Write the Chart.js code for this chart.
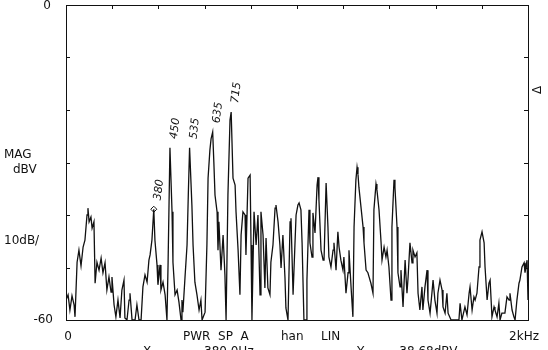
<!DOCTYPE html>
<html>
<head>
<meta charset="utf-8">
<script src="https://cdn.jsdelivr.net/npm/chart.js@4/dist/chart.umd.min.js"></script>
<style>
  html, body { margin: 0; padding: 0; background: #fff; }
  #wrap { width: 548px; height: 350px; }
</style>
</head>
<body>
<div id="wrap"><canvas id="spectrum" width="548" height="350"></canvas></div>
<script>
// spectrum trace (Hz, dBV)
const freqHz = [
  0, 9, 17, 26, 35, 39, 48, 56, 65, 74, 82, 91, 95, 100, 108, 113, 121, 126, 134, 143,
  152, 160, 169, 177, 186, 195, 199, 208, 216, 225, 234, 242, 251, 255, 264, 273, 277, 286, 299, 307,
  316, 325, 333, 342, 351, 359, 364, 372, 380, 385, 394, 398, 407, 411, 420, 429, 437, 442, 450, 459,
  463, 472, 481, 489, 498, 502, 506, 515, 524, 530, 535, 545, 550, 558, 567, 576, 584, 589, 602, 610,
  615, 623, 628, 635, 640, 645, 654, 658, 662, 671, 680, 688, 693, 701, 710, 715, 723, 732, 736, 745,
  753, 758, 766, 775, 779, 788, 797, 801, 805, 814, 823, 831, 840, 844, 853, 861, 866, 874, 883, 887,
  896, 905, 909, 918, 926, 931, 939, 948, 952, 961, 970, 974, 983, 991, 996, 1004, 1009, 1017, 1022, 1030,
  1039, 1043, 1052, 1056, 1065, 1069, 1078, 1087, 1091, 1095, 1104, 1113, 1117, 1126, 1134, 1138, 1147, 1156, 1160, 1169,
  1177, 1182, 1190, 1199, 1203, 1212, 1221, 1225, 1234, 1242, 1247, 1255, 1260, 1264, 1268, 1277, 1286, 1290, 1299, 1307,
  1312, 1320, 1329, 1333, 1342, 1346, 1355, 1364, 1368, 1377, 1385, 1390, 1398, 1407, 1411, 1420, 1424, 1433, 1437, 1446,
  1450, 1459, 1468, 1476, 1481, 1489, 1498, 1502, 1511, 1519, 1524, 1532, 1541, 1545, 1554, 1563, 1567, 1576, 1584, 1589,
  1597, 1606, 1610, 1619, 1628, 1632, 1641, 1649, 1654, 1667, 1684, 1701, 1706, 1714, 1727, 1736, 1745, 1749, 1758, 1766,
  1771, 1779, 1788, 1792, 1801, 1810, 1814, 1823, 1831, 1836, 1844, 1853, 1857, 1866, 1874, 1879, 1887, 1900, 1909, 1918,
  1922, 1931, 1939, 1944, 1952, 1961, 1965, 1974, 1983, 1987, 1996, 2000
];
const magDbv = [
  -56.2, -55.2, -58.1, -55.4, -57.1, -59.4, -49.0, -46.7, -49.7, -46.1, -44.8, -40.0, -38.7, -41.3, -40.4, -42.5, -41.3, -53.0, -49.0, -50.5,
  -48.2, -51.0, -49.1, -54.3, -51.8, -54.7, -51.8, -57.1, -59.4, -56.2, -59.6, -54.3, -52.4, -59.6, -60.0, -56.2, -54.9, -60.0, -60.0, -57.1,
  -60.0, -60.0, -53.7, -51.4, -52.8, -48.6, -47.6, -44.8, -38.9, -44.8, -49.5, -53.3, -49.5, -54.3, -52.8, -55.2, -60.0, -49.0, -27.2, -39.4,
  -49.0, -55.2, -54.3, -56.6, -60.0, -56.2, -58.5, -52.0, -45.7, -35.2, -27.2, -38.1, -45.7, -52.8, -55.2, -58.1, -56.2, -60.0, -58.5, -45.7,
  -33.0, -27.6, -25.5, -24.2, -29.9, -36.2, -39.4, -46.7, -41.3, -50.5, -43.8, -51.4, -60.0, -36.2, -21.9, -20.4, -33.0, -34.3, -39.4, -46.7,
  -55.2, -43.8, -39.4, -40.0, -47.6, -33.0, -32.4, -45.7, -60.0, -39.4, -45.7, -40.0, -55.2, -39.4, -43.8, -53.9, -44.4, -53.9, -55.2, -49.0,
  -45.7, -38.7, -38.1, -41.3, -45.7, -50.1, -43.8, -52.0, -57.7, -60.0, -41.3, -40.6, -55.2, -45.7, -40.0, -38.1, -37.7, -39.0, -45.3, -60.0,
  -60.0, -52.4, -39.0, -45.3, -48.0, -39.6, -43.4, -34.3, -32.8, -37.1, -46.7, -48.6, -48.6, -33.9, -42.3, -48.0, -49.9, -46.7, -45.3, -50.5,
  -43.2, -46.1, -48.6, -50.5, -48.0, -54.9, -51.0, -46.7, -53.7, -59.4, -42.3, -33.3, -30.9, -32.2, -34.7, -38.5, -42.3, -45.3, -50.5, -51.0,
  -51.8, -53.0, -54.9, -39.0, -34.1, -35.2, -39.0, -45.3, -48.6, -46.1, -48.0, -46.7, -49.9, -56.2, -42.3, -33.3, -34.7, -42.3, -51.0, -53.7,
  -50.5, -57.5, -48.6, -54.9, -51.8, -45.3, -49.1, -46.7, -48.0, -47.2, -54.9, -58.1, -53.7, -58.1, -53.7, -50.5, -56.2, -58.7, -54.9, -52.4,
  -56.2, -58.7, -54.9, -52.4, -54.3, -57.5, -58.7, -54.9, -58.7, -60.0, -60.0, -60.0, -56.8, -60.0, -57.5, -59.0, -54.9, -53.7, -58.1, -55.6,
  -56.2, -54.9, -49.9, -44.8, -43.2, -45.3, -49.9, -56.2, -53.0, -52.4, -59.4, -57.5, -58.1, -59.4, -56.8, -60.0, -58.7, -58.7, -55.6, -56.2,
  -54.9, -58.1, -59.4, -60.0, -56.2, -53.0, -52.4, -49.9, -49.1, -51.0, -48.6, -56.2
];

// marker and hand-written peak notes
const markerHz = [380];
const markerDbv = [-38.9];
const peakNotes = ['380', '450', '535', '635', '715'];
const peakHz = [380, 450, 535, 635, 715];
const peakDbv = [-38.9, -27.2, -27.2, -24.2, -20.4];

// axis ticks
const xMin = 0, xMax = 2000, xStep = 200;
const yMin = -60, yMax = 0, yStep = 10;

const traceData = freqHz.map((f, i) => ({ x: f, y: magDbv[i] }));
const markerData = markerHz.map((f, i) => ({ x: f, y: markerDbv[i] }));

const font = '"DejaVu Sans", sans-serif';

// frame, inward ticks and all the plotter text
const plotterDecor = {
  id: 'plotterDecor',
  afterDraw(chart) {
    const ctx = chart.ctx;
    const a = chart.chartArea;
    const xs = chart.scales.x;
    const ys = chart.scales.y;
    ctx.save();
    ctx.strokeStyle = '#111';
    ctx.lineWidth = 1;
    ctx.strokeRect(a.left + 0.5, a.top + 0.5, a.right - a.left, a.bottom - a.top);

    // inward ticks
    ctx.beginPath();
    for (let v = xMin; v <= xMax; v += xStep) {
      const px = Math.round(xs.getPixelForValue(v)) + 0.5;
      ctx.moveTo(px, a.top);
      ctx.lineTo(px, a.top + 4);
    }
    for (let v = yMin; v <= yMax; v += yStep) {
      const py = Math.round(ys.getPixelForValue(v)) + 0.5;
      ctx.moveTo(a.left, py);
      ctx.lineTo(a.left + 4, py);
      ctx.moveTo(a.right, py);
      ctx.lineTo(a.right - 4, py);
    }
    ctx.stroke();

    // left side labels
    ctx.fillStyle = '#111';
    ctx.font = '12px ' + font;
    ctx.textBaseline = 'middle';
    ctx.textAlign = 'right';
    ctx.fillText(String(yMax), 51, ys.getPixelForValue(yMax) + 1);
    ctx.fillText(String(yMin), 53, ys.getPixelForValue(yMin));
    ctx.textAlign = 'left';
    ctx.fillText('MAG', 4, 155);
    ctx.fillText('dBV', 13, 170);
    ctx.fillText('10dB/', 4, 241);

    // bottom labels
    ctx.textAlign = 'center';
    ctx.fillText('0', xs.getPixelForValue(xMin) + 2, 337);
    ctx.textAlign = 'left';
    ctx.fillText('PWR  SP  A', 183, 337);
    ctx.fillText('han', 281, 337);
    ctx.fillText('LIN', 321, 337);
    ctx.textAlign = 'right';
    ctx.fillText('2kHz', 539, 337);
    ctx.textAlign = 'left';
    ctx.fillText('X', 143, 352);
    ctx.fillText('380.0Hz', 204, 352);
    ctx.fillText('Y', 357, 352);
    ctx.fillText('-38.68dBV', 395, 352);

    // hand-written peak notes
    ctx.font = 'italic 11px ' + font;
    ctx.textAlign = 'left';
    peakNotes.forEach((t, i) => {
      const px = xs.getPixelForValue(peakHz[i]);
      const py = ys.getPixelForValue(peakDbv[i]);
      ctx.save();
      ctx.translate(px + 4, py - 9);
      ctx.rotate(-1.45);
      ctx.fillText(t, 0, 0);
      ctx.restore();
    });

    // delta mark on the right
    ctx.save();
    ctx.font = '12px ' + font;
    ctx.translate(538, 90);
    ctx.rotate(-Math.PI / 2);
    ctx.textAlign = 'center';
    ctx.fillText('\u0394', 0, 0);
    ctx.restore();
    ctx.restore();
  }
};

new Chart(document.getElementById('spectrum'), {
  type: 'line',
  data: {
    datasets: [
      {
        data: traceData,
        borderColor: '#111',
        borderWidth: 1.3,
        pointRadius: 0,
        tension: 0
      },
      {
        data: markerData,
        showLine: false,
        pointStyle: 'rectRot',
        pointRadius: 3,
        pointBorderWidth: 1,
        pointBorderColor: '#111',
        pointBackgroundColor: '#fff'
      }
    ]
  },
  options: {
    responsive: false,
    animation: false,
    layout: { padding: { left: 66, right: 20, top: 5, bottom: 30 } },
    plugins: { legend: { display: false }, tooltip: { enabled: false } },
    scales: {
      x: { type: 'linear', min: xMin, max: xMax, display: false },
      y: { type: 'linear', min: yMin, max: yMax, display: false }
    }
  },
  plugins: [plotterDecor]
});
</script>
</body>
</html>
